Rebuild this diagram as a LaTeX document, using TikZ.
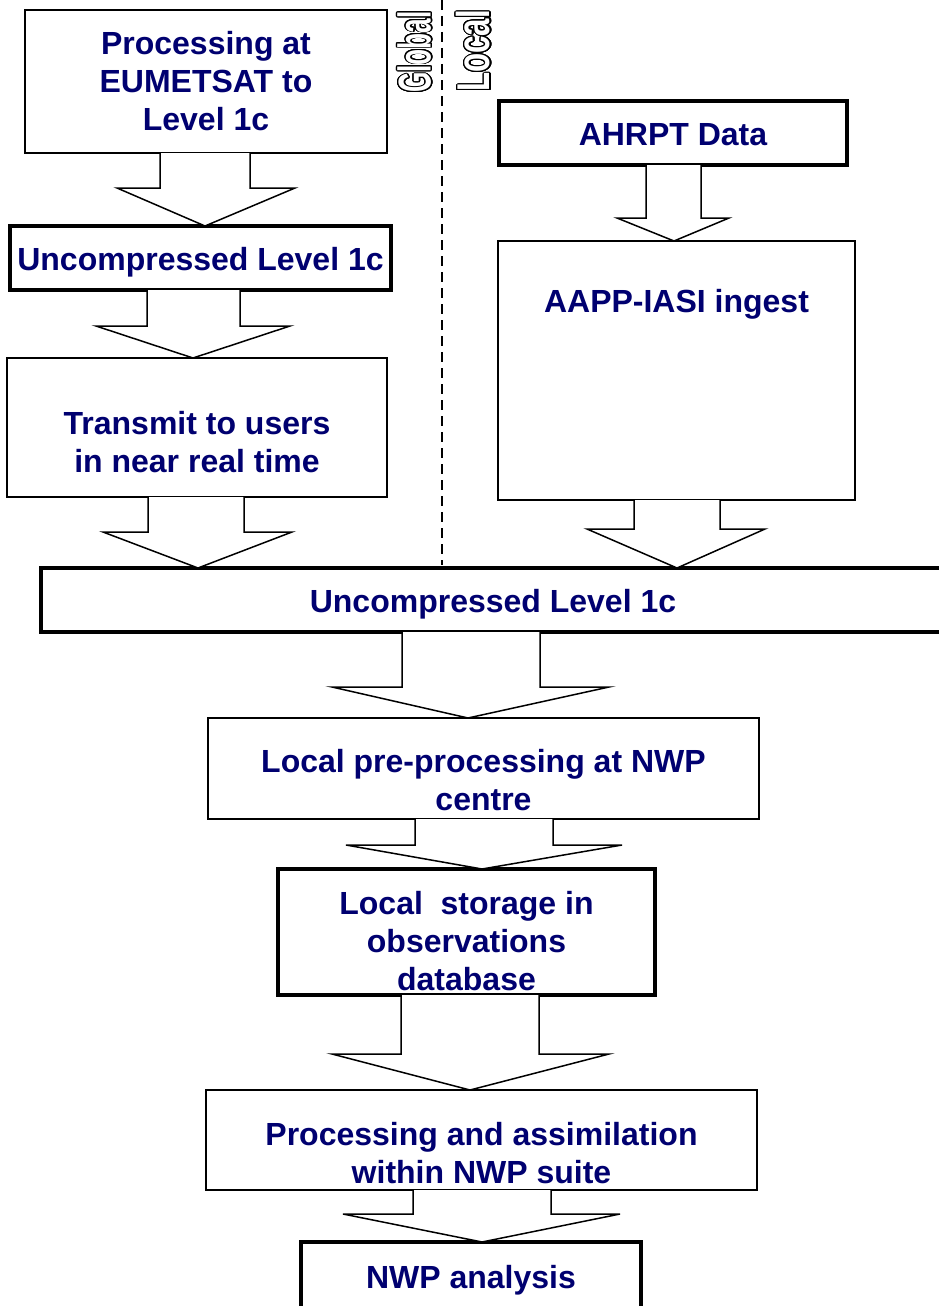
\documentclass[tikz,border=0pt]{standalone}
\usepackage{fontspec}
\setmainfont{Liberation Sans}
\usepackage{contour}
\contourlength{1.4pt}
\contournumber{24}
\definecolor{navy}{HTML}{000070}
\newcommand\blk[8]{%
  \draw[blkarrow] (#4,0 |- #1.south) -- (#4,#8) -- (#6,#8) -- (#3,0 |- #2.north)
    -- (#7,#8) -- (#5,#8) -- (#5,0 |- #1.south);}
\tikzset{
  txt/.style={text=navy, font=\bfseries\fontsize{32}{38}\selectfont, align=center, inner sep=0pt},
  thinbox/.style={draw, line width=1.3pt, fill=white, inner sep=0pt, outer sep=0pt, txt},
  thickbox/.style={thinbox, line width=3.5pt},
  oneline/.style={text height=25pt, text depth=0pt},
  blkarrow/.style={draw, line width=1.5pt, fill=white, line join=miter},
  sidelabel/.style={rotate=90, inner sep=0pt, font=\bfseries\fontsize{46}{46}\selectfont},
}
\begin{document}
\begin{tikzpicture}[x=1pt, y=-1pt]
\useasboundingbox (0,0) rectangle (939,1306);
\draw[dashed, line width=1.5pt, dash pattern=on 10pt off 6pt] (442,0) -- (442,565);
\node[sidelabel] (glob) at (415,52) {\scalebox{0.57}[1]{\textcolor{white}{\contour{black}{Global}}}};
\node[sidelabel] (loc) at (474,51) {\scalebox{0.68}[1]{\textcolor{white}{\contour{black}{Local}}}};
% boxes
\node[thinbox, minimum width=362pt, minimum height=143pt] (b1) at (206,81.5) {Processing at\\EUMETSAT to\\Level 1c};
\node[thickbox, oneline, minimum width=381pt, minimum height=64pt] (b2) at (200.5,258) {Uncompressed Level 1c};
\node[thinbox, minimum width=380pt, minimum height=139pt,
  label={[txt, yshift=-15pt]center:Transmit to users\\in near real time}] (b3) at (197,427.5) {};
\node[thickbox, oneline, minimum width=348pt, minimum height=64pt] (b4) at (673,133) {AHRPT Data};
\node[thinbox, minimum width=357pt, minimum height=259pt,
  label={[txt, yshift=66pt]center:AAPP-IASI ingest}] (b5) at (676.5,370.5) {};
\node[thickbox, oneline, minimum width=904pt, minimum height=64pt] (b6) at (493,600) {Uncompressed Level 1c};
\node[thinbox, minimum width=551pt, minimum height=101pt,
  label={[txt, yshift=-12pt]center:Local pre-processing at NWP\\centre}] (b7) at (483.5,768.5) {};
\node[thickbox, minimum width=377pt, minimum height=126pt,
  label={[txt, yshift=-9pt]center:Local\ \ storage in\\observations\\database}] (b8) at (466.5,932) {};
\node[thinbox, minimum width=551pt, minimum height=100pt,
  label={[txt, yshift=-13pt]center:Processing and assimilation\\within NWP suite}] (b9) at (481.5,1140) {};
\node[thickbox, oneline, minimum width=340pt, minimum height=68pt] (b10) at (471,1276) {NWP analysis};
% block arrows
\blk{b1}{b2}{205}{160}{250}{117}{295}{188}
\blk{b2}{b3}{193}{147}{240}{96}{290}{326}
\blk{b3}{b6}{198}{148}{244}{103}{292}{532}
\blk{b5}{b6}{677}{634}{720}{587}{765}{529}
\blk{b4}{b5}{674}{646}{701}{617}{729}{218}
\blk{b6}{b7}{468}{402}{540}{332}{609}{687}
\blk{b7}{b8}{482}{415}{553}{346}{622}{845}
\blk{b8}{b9}{470}{401}{539}{332}{609}{1054}
\blk{b9}{b10}{482}{413}{551}{343}{620}{1214}
\end{tikzpicture}
\end{document}
